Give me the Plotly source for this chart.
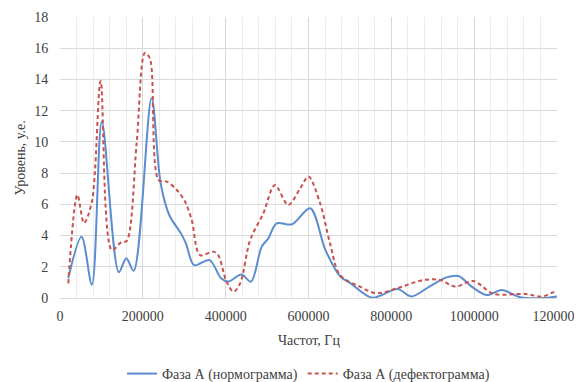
import plotly.graph_objects as go

# Normogram (phase A) – frequency, Hz / level, a.u.
norm_x = [20000, 52000, 77000, 101000, 142000, 160000, 178000, 221000, 243000, 264000,
          292000, 304000, 324000, 361000, 389000, 406000, 438000, 461000, 487000, 503000,
          523000, 560000, 604000, 641000, 677000, 702000, 754000, 815000, 848000, 892000,
          933000, 962000, 994000, 1030000, 1067000, 1111000, 1168000, 1200000]
norm_y = [1.26, 3.93, 0.85, 11.3, 1.65, 2.55, 1.75, 12.8, 7.35, 5.3,
          4.14, 3.5, 2.1, 2.43, 1.26, 1.05, 1.5, 1.05, 3.29, 3.82,
          4.78, 4.72, 5.75, 3.07, 1.37, 0.94, 0.02, 0.58, 0.1, 0.73,
          1.32, 1.41, 0.73, 0.19, 0.51, 0.05, 0.0, 0.1]

# Defectogram (phase A)
def_x = [20000, 42000, 58000, 77000, 98000, 125000, 149000, 161000, 185000, 205000,
         217000, 238000, 258000, 282000, 302000, 318000, 338000, 370000, 382000, 402000,
         419000, 435000, 459000, 491000, 519000, 551000, 580000, 600000, 628000, 652000,
         676000, 724000, 765000, 813000, 878000, 918000, 954000, 998000, 1047000, 1124000,
         1164000, 1192000, 1200000]
def_y = [0.94, 6.6, 4.8, 6.17, 13.9, 3.07, 3.6, 3.65, 9.9, 15.7,
         15.35, 7.56, 7.45, 6.92, 6.17, 5.0, 2.75, 2.97, 2.75, 1.05,
         0.4, 0.94, 3.7, 5.43, 7.24, 5.96, 7.03, 7.78, 6.07, 3.5,
         1.47, 0.73, 0.3, 0.62, 1.15, 1.15, 0.73, 1.09, 0.26, 0.26,
         0.09, 0.37, 0.35]

x_ticks = [0, 200000, 400000, 600000, 800000, 1000000, 1200000]
y_ticks = [0, 2, 4, 6, 8, 10, 12, 14, 16, 18]
x_title = "Частот, Гц"
y_title = "Уровень, у.е."

FONT = "Liberation Serif, Times New Roman, serif"
TXT = "#404040"

fig = go.Figure()
fig.add_trace(go.Scatter(
    x=norm_x, y=norm_y, mode="lines", name="Фаза А (нормограмма)",
    line=dict(color="#5b8dd0", width=2, shape="spline", smoothing=0.9)))
fig.add_trace(go.Scatter(
    x=def_x, y=def_y, mode="lines", name="Фаза А (дефектограмма)",
    line=dict(color="#c9514e", width=2, dash="4px,3px", shape="spline", smoothing=0.9)))

# page has an 8px body margin, so the figure is 8px smaller than the window
fig.update_layout(
    width=574, height=374,
    margin=dict(l=52, r=25, t=9, b=84, autoexpand=False),
    paper_bgcolor="white", plot_bgcolor="white",
    font=dict(family=FONT, size=14, color=TXT),
    showlegend=True,
    legend=dict(orientation="h", x=0.5, xanchor="center",
                yref="container", y=0.0214, yanchor="middle",
                font=dict(family=FONT, size=14, color=TXT)),
    xaxis=dict(
        range=[0, 1200000], tickvals=x_ticks, ticktext=[str(v) for v in x_ticks],
        showgrid=True, gridcolor="#d9d9d9", gridwidth=1,
        minor=dict(dtick=40000, tick0=0, showgrid=True, gridcolor="#ececec", gridwidth=1),
        zeroline=False, showline=True, linecolor="#d9d9d9",
        ticks="outside", ticklen=5, tickcolor="rgba(0,0,0,0)",
        tickfont=dict(family=FONT, size=14, color=TXT),
        ticklabeloverflow="allow", automargin=False,
    ),
    yaxis=dict(
        range=[0, 18], tickvals=y_ticks,
        showgrid=True, gridcolor="#d9d9d9", gridwidth=1,
        zeroline=False, showline=False,
        ticks="outside", ticklen=8, tickcolor="rgba(0,0,0,0)",
        tickfont=dict(family=FONT, size=14, color=TXT),
        automargin=False,
    ),
    annotations=[
        dict(text=x_title, xref="paper", yref="paper", x=0.5, y=-0.1495,
             xanchor="center", yanchor="middle", showarrow=False,
             font=dict(family=FONT, size=14, color=TXT)),
        dict(text=y_title, xref="paper", yref="paper", x=-0.0785, y=0.5,
             xanchor="center", yanchor="middle", textangle=-90, showarrow=False,
             font=dict(family=FONT, size=14, color=TXT)),
    ],
)

fig.write_html("out.html")
